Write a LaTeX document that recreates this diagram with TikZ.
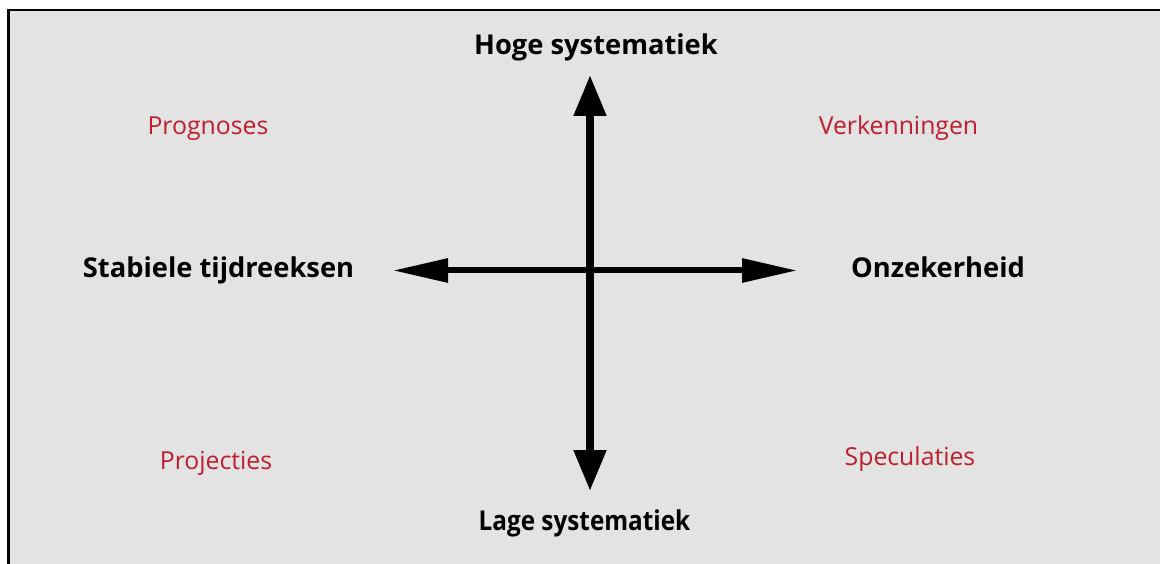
\documentclass[tikz,border=0pt]{standalone}
\usepackage{fontspec}
\setmainfont{Open Sans}
\usetikzlibrary{arrows.meta}
\definecolor{panel}{RGB}{227,227,227}
\definecolor{quadred}{RGB}{190,30,45}
\begin{document}
\begin{tikzpicture}[x=1pt,y=-1pt,
  axislabel/.style={font=\fontsize{27.3}{32}\selectfont\bfseries, text=black, inner sep=0pt, anchor=base},
  quadlabel/.style={font=\fontsize{24.8}{30}\selectfont, text=quadred, inner sep=0pt, anchor=base},
  harrow/.style={line width=6pt, {Triangle[length=55pt,width=23pt]}-{Triangle[length=55pt,width=23pt]}},
  varrow/.style={line width=8pt, {Triangle[length=41pt,width=31pt]}-{Triangle[length=41pt,width=31pt]}}]
  % page and panel
  \useasboundingbox (0,0) rectangle (1160,564);
  \fill[white] (0,0) rectangle (1160,564);
  \fill[panel] (8.6,10.2) rectangle (1160,564);
  \draw[line width=2.3pt] (8.6,564) -- (8.6,10.2) -- (1160,10.2);

  % axis end points
  \coordinate (top) at (590,75);
  \coordinate (bottom) at (590,491);
  \coordinate (left) at (393,270.5);
  \coordinate (right) at (797,270.5);

  % axes
  \draw[varrow] (bottom) -- (top);
  \draw[harrow] (left) -- (right);

  % axis labels
  \node[axislabel] (hoog) at (596,55) {Hoge systematiek};
  \node[axislabel] (laag) at (584.5,530) {\scalebox{0.89}[1]{Lage systematiek}};
  \node[axislabel] (stabiel) at (218.5,277.8) {Stabiele tijdreeksen};
  \node[axislabel] (onzeker) at (938,277.5) {Onzekerheid};

  % quadrant labels
  \node[quadlabel] (prog) at (208,135) {Prognoses};
  \node[quadlabel] (verk) at (898.5,135) {Verkenningen};
  \node[quadlabel] (proj) at (216,469) {Projecties};
  \node[quadlabel] (spec) at (910,465.7) {Speculaties};
\end{tikzpicture}
\end{document}
